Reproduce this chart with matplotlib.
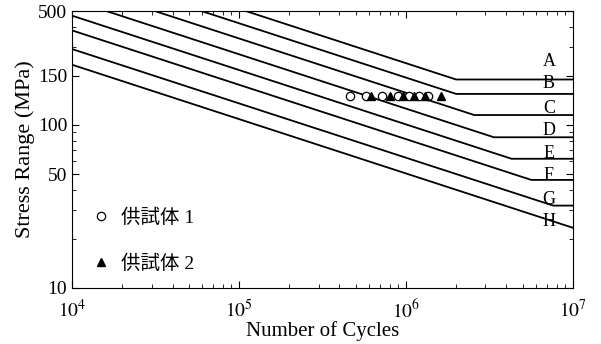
import numpy as np
import matplotlib.pyplot as plt
from matplotlib.ticker import FixedLocator, FixedFormatter, NullFormatter

plt.rcParams['font.family'] = ['Liberation Serif', 'Noto Sans CJK JP']
plt.rcParams['mathtext.fontset'] = 'stix'

# S-N design curves: vertices (cycles, stress range MPa)
classes = ['A', 'B', 'C', 'D', 'E', 'F', 'G', 'H']
curve_N = [
    [1e4, 2.0e6, 1e7],
    [1e4, 2.0e6, 1e7],
    [1e4, 2.57e6, 1e7],
    [1e4, 3.37e6, 1e7],
    [1e4, 4.30e6, 1e7],
    [1e4, 5.64e6, 1e7],
    [1e4, 7.63e6, 1e7],
    [1e4, 1e7],
]
curve_S = [
    [1111, 190, 190],
    [906, 155, 155],
    [731, 115, 115],
    [585, 84, 84],
    [468, 62, 62],
    [380, 46, 46],
    [292, 32, 32],
    [234, 23.4],
]
label_S = [244, 179, 127, 93, 67, 49, 34.7, 25.4]

# test results
spec1_N = [4.6e5, 5.8e5, 7.2e5, 9.0e5, 1.05e6, 1.2e6, 1.35e6]
spec1_S = [150, 150, 150, 150, 150, 150, 150]
spec2_N = [6.2e5, 8.0e5, 9.6e5, 1.12e6, 1.3e6, 1.62e6]
spec2_S = [150, 150, 150, 150, 150, 150]

fig = plt.figure(figsize=(6.01, 3.44), dpi=100)
ax = fig.add_axes([0.12, 0.163, 0.833, 0.805])

for name, n, s, ls in zip(classes, curve_N, curve_S, label_S):
    ax.plot(n, s, color='black', lw=1.3)
    ax.text(7.2e6, ls, name, ha='center', va='center', fontsize=13)

ax.plot(spec1_N, spec1_S, 'o', mfc='white', mec='black', ms=6, mew=0.9,
        label='供試体 1', ls='none')
ax.plot(spec2_N, spec2_S, '^', color='black', ms=6, label='供試体 2', ls='none')

ax.set_xscale('log')
ax.set_yscale('log')
ax.set_xlim(1e4, 1e7)
ax.set_ylim(10, 500)

ax.xaxis.set_major_locator(FixedLocator([1e4, 1e5, 1e6, 1e7]))
ax.xaxis.set_major_formatter(FixedFormatter(['$10^4$', '$10^5$', '$10^6$', '$10^7$']))
ax.xaxis.set_minor_locator(FixedLocator([m * 10**e for e in (4, 5, 6) for m in range(2, 10)]))
ax.xaxis.set_minor_formatter(NullFormatter())

ax.yaxis.set_major_locator(FixedLocator([10, 50, 100, 200, 500]))
ax.yaxis.set_major_formatter(FixedFormatter(['10', '50', '100', '150', '500']))
ax.yaxis.set_minor_locator(FixedLocator([20, 30, 40, 60, 70, 80, 90, 300, 400]))
ax.yaxis.set_minor_formatter(NullFormatter())

ax.tick_params(which='both', direction='in', top=True, right=True, labelsize=14)
ax.tick_params(which='major', length=5, width=0.8)
ax.tick_params(which='minor', length=3, width=0.6)
ax.tick_params(axis='x', pad=8)

ax.set_xlabel('Number of Cycles', fontsize=15, labelpad=0)
ax.set_ylabel('Stress Range (MPa)', fontsize=16, labelpad=2)

ax.legend(loc='lower left', bbox_to_anchor=(0.0, -0.01), frameon=False,
          fontsize=14, labelspacing=1.45, handletextpad=0.4, handlelength=1.2)

fig.savefig('out.png', dpi=100)
